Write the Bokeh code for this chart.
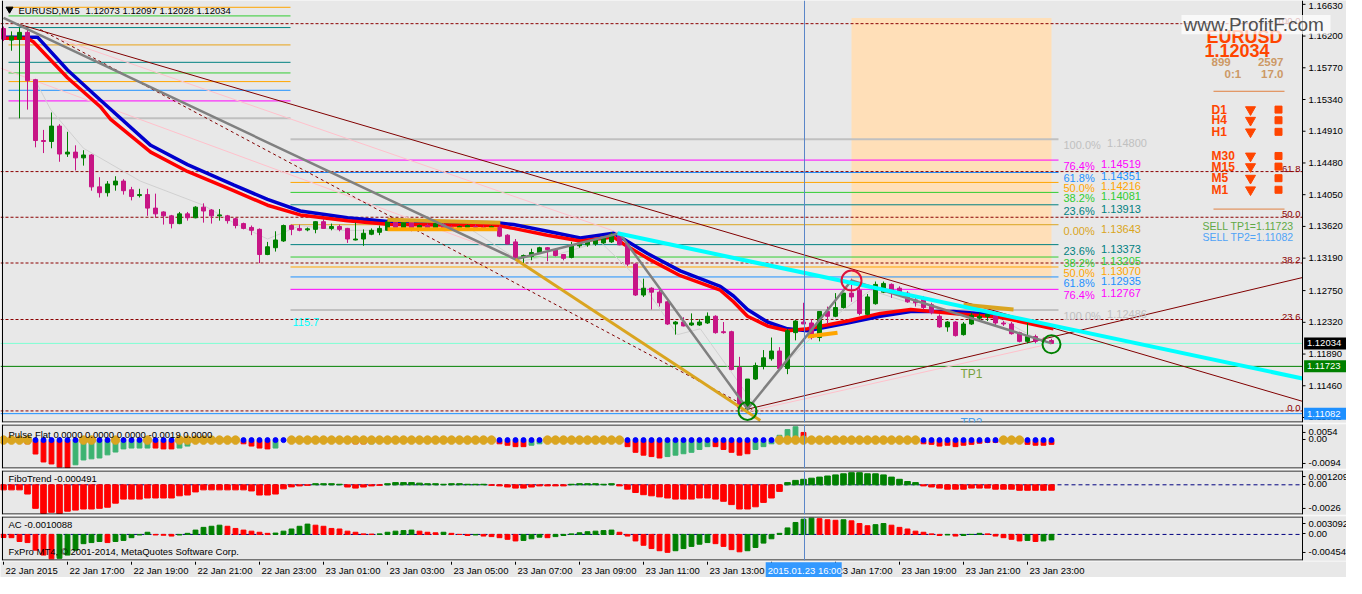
from bokeh.plotting import figure
from bokeh.layouts import column
from bokeh.models import ColumnDataSource, Range1d, Span, BoxAnnotation
from bokeh.core.properties import value
from bokeh.embed import file_html
from bokeh.resources import INLINE

# ---------------------------------------------------------------- data
open_ = [1.16302,1.16145,1.16158,1.16250,1.15609,1.14784,1.14771,1.14980,1.14601,1.14627,
 1.14549,1.14588,1.14156,1.14077,1.14182,1.14234,1.14117,1.14038,1.14051,1.13868,
 1.13816,1.13763,1.13658,1.13790,1.13737,1.13881,1.13842,1.13763,1.13763,1.13724,
 1.13658,1.13606,1.13580,1.13239,1.13331,1.13423,1.13632,1.13593,1.13573,1.13580,
 1.13684,1.13593,1.13619,1.13593,1.13436,1.13449,1.13514,1.13540,1.13567,1.13684,
 1.13593,1.13684,1.13580,1.13632,1.13593,1.13645,1.13606,1.13593,1.13606,1.13619,
 1.13606,1.13606,1.13606,1.13501,1.13410,1.13213,1.13213,1.13266,1.13331,1.13305,
 1.13239,1.13200,1.13357,1.13370,1.13383,1.13396,1.13410,1.13514,1.13383,1.13109,
 1.12690,1.12782,1.12729,1.12598,1.12297,1.12324,1.12284,1.12284,1.12311,1.12402,
 1.12193,1.12193,1.11708,1.11145,1.11551,1.11721,1.11826,1.11931,1.11695,1.12180,
 1.12324,1.12311,1.12114,1.12467,1.12402,1.12520,1.12716,1.12755,1.12428,1.12572,
 1.12729,1.12834,1.12782,1.12716,1.12624,1.12651,1.12559,1.12402,1.12258,1.12324,
 1.12153,1.12297,1.12376,1.12402,1.12454,1.12311,1.12297,1.12180,1.12062,1.12127,
 1.12088,1.12073]
high = [1.16329,1.16263,1.16315,1.16289,1.15620,1.14928,1.15164,1.15006,1.14902,1.14719,
 1.14653,1.14600,1.14287,1.14234,1.14300,1.14260,1.14156,1.14130,1.14130,1.14064,
 1.13825,1.13776,1.13816,1.13816,1.13894,1.13933,1.13855,1.13855,1.13776,1.13737,
 1.13671,1.13632,1.13593,1.13410,1.13554,1.13645,1.13645,1.13645,1.13606,1.13690,
 1.13724,1.13658,1.13645,1.13600,1.13671,1.13580,1.13593,1.13632,1.13711,1.13711,
 1.13711,1.13711,1.13645,1.13658,1.13684,1.13671,1.13632,1.13632,1.13645,1.13645,
 1.13632,1.13632,1.13632,1.13514,1.13449,1.13239,1.13318,1.13344,1.13340,1.13318,
 1.13245,1.13410,1.13410,1.13423,1.13462,1.13475,1.13540,1.13540,1.13396,1.13122,
 1.12912,1.12795,1.12755,1.12611,1.12337,1.12389,1.12441,1.12363,1.12454,1.12415,
 1.12324,1.12206,1.11852,1.11551,1.11774,1.11944,1.12114,1.11983,1.12232,1.12350,
 1.12585,1.12363,1.12467,1.12533,1.12716,1.12716,1.12912,1.12795,1.12703,1.12873,
 1.12873,1.12847,1.12808,1.12742,1.12651,1.12677,1.12585,1.12428,1.12337,1.12337,
 1.12324,1.12454,1.12454,1.12454,1.12467,1.12337,1.12324,1.12193,1.12311,1.12153,
 1.12114,1.12097]
low = [1.16132,1.16001,1.15085,1.15203,1.14692,1.14614,1.14679,1.14496,1.14562,1.14378,
 1.14444,1.14104,1.14012,1.14025,1.14104,1.14051,1.13973,1.14012,1.13763,1.13737,
 1.13645,1.13593,1.13650,1.13698,1.13730,1.13671,1.13658,1.13698,1.13658,1.13593,
 1.13580,1.13501,1.13122,1.13230,1.13279,1.13410,1.13501,1.13554,1.13554,1.13527,
 1.13590,1.13567,1.13554,1.13396,1.13430,1.13357,1.13501,1.13501,1.13560,1.13580,
 1.13567,1.13554,1.13575,1.13567,1.13580,1.13580,1.13567,1.13580,1.13593,1.13593,
 1.13580,1.13580,1.13475,1.13370,1.13174,1.13109,1.13161,1.13252,1.13148,1.13213,
 1.13161,1.13187,1.13331,1.13344,1.13357,1.13383,1.13396,1.13365,1.13082,1.12677,
 1.12664,1.12494,1.12533,1.12284,1.12153,1.12265,1.12271,1.12271,1.12297,1.12166,
 1.12166,1.11669,1.11145,1.11119,1.11538,1.11682,1.11800,1.11682,1.11617,1.12075,
 1.12297,1.12088,1.12062,1.12297,1.12389,1.12507,1.12598,1.12415,1.12415,1.12559,
 1.12716,1.12651,1.12690,1.12585,1.12533,1.12494,1.12428,1.12245,1.12193,1.12127,
 1.12140,1.12284,1.12337,1.12337,1.12271,1.12271,1.12153,1.12048,1.12035,1.12035,
 1.12048,1.12028]
close = [1.16158,1.16198,1.16250,1.15596,1.14784,1.14771,1.14980,1.14601,1.14627,1.14549,
 1.14588,1.14156,1.14077,1.14195,1.14234,1.14104,1.14025,1.14051,1.13868,1.13790,
 1.13763,1.13658,1.13790,1.13737,1.13881,1.13829,1.13763,1.13776,1.13698,1.13632,
 1.13593,1.13567,1.13239,1.13344,1.13436,1.13632,1.13580,1.13567,1.13587,1.13684,
 1.13593,1.13619,1.13580,1.13449,1.13449,1.13527,1.13567,1.13593,1.13684,1.13606,
 1.13684,1.13580,1.13632,1.13593,1.13658,1.13593,1.13580,1.13619,1.13632,1.13606,
 1.13593,1.13619,1.13488,1.13383,1.13187,1.13226,1.13266,1.13331,1.13305,1.13226,
 1.13187,1.13357,1.13396,1.13410,1.13436,1.13462,1.13514,1.13370,1.13109,1.12690,
 1.12782,1.12729,1.12585,1.12297,1.12324,1.12271,1.12311,1.12324,1.12402,1.12180,
 1.12180,1.11682,1.11158,1.11551,1.11734,1.11839,1.11931,1.11695,1.12206,1.12337,
 1.12297,1.12114,1.12467,1.12402,1.12520,1.12716,1.12664,1.12441,1.12664,1.12834,
 1.12847,1.12755,1.12703,1.12598,1.12585,1.12520,1.12454,1.12258,1.12324,1.12140,
 1.12297,1.12415,1.12402,1.12428,1.12311,1.12297,1.12166,1.12062,1.12127,1.12062,
 1.12062,1.12034]

# moving averages (bar index, price)
ma_red_idx = [0,3,3.75,8,12.1,13.4,18.4,23,28.75,33,37.1,43,48.4,61.75,63.75,68,72.1,76.25,77.5,
              80.5,84.6,89.6,91.25,93,95.5,98,100.5,105.5,109.6,113.4,118.75,124.6,131.25]
ma_red_val = [1.16172,1.16172,1.16119,1.15635,1.15242,1.15072,1.14627,1.14365,1.14104,1.13907,
              1.13776,1.13698,1.13645,1.13632,1.13593,1.13501,1.13423,1.13475,1.13383,1.13187,
              1.12952,1.12755,1.12598,1.12402,1.12271,1.12206,1.12232,1.12337,1.12441,1.12494,
              1.12441,1.12389,1.12232]
ma_blue_idx = [0,3,4.25,8,12.1,18.4,23,28.75,33,37.1,43,48.4,61.75,63.75,68,72.1,76.25,77.5,80.5,
               84.6,89.6,91.25,93,95.5,98,100.5,105.5,109.6,113.4,118.75,124.6,131.25]
ma_blue_val = [1.16185,1.16185,1.16185,1.15740,1.15334,1.14719,1.14457,1.14182,1.13986,1.13829,
               1.13737,1.13684,1.13671,1.13645,1.13554,1.13462,1.13527,1.13449,1.13252,1.13017,
               1.12808,1.12677,1.12494,1.12324,1.12232,1.12206,1.12311,1.12402,1.12467,1.12467,
               1.12415,1.12258]
thin_ma_idx = [4.25,5.9,10,17.1,25,28.75,33,37.1,42.1,49.6,58.4,64.6,69.6,74.6,79.6,84.25,87.1,
               93.75,98.4,103.4,108.4,112.1,118.4,124.6,129.6]
thin_ma_val = [1.15543,1.15203,1.14679,1.14234,1.13907,1.13671,1.13449,1.13632,1.13567,1.13567,
               1.13580,1.13148,1.13252,1.13410,1.12886,1.12153,1.12232,1.11224,1.11839,1.12363,
               1.12755,1.12624,1.12428,1.12363,1.12075]

# price axis
price_ticks = [1.11030,1.11460,1.11890,1.12320,1.12750,1.13190,1.13620,1.14050,1.14480,
               1.14910,1.15340,1.15770,1.16200,1.16630]

# Fibonacci sets
fib_left_levels = [1.16590,1.16473,1.16315,1.16080,1.15844,1.15700,1.15583,1.15465,1.15321,1.15085]
fib_left_colors = ["#FFA500","#32CD32","#008080","#E8A317","#008080","#32CD32","#FFA500",
                   "#1E90FF","#FF00FF","#C0C0C0"]
fib_right_pct = ["100.0%","76.4%","61.8%","50.0%","38.2%","23.6%","0.00%",
                 "23.6%","38.2%","50.0%","61.8%","76.4%","100.0%"]
fib_right_levels = [1.14800,1.14519,1.14351,1.14216,1.14081,1.13913,1.13643,
                    1.13373,1.13205,1.13070,1.12935,1.12767,1.12486]
fib_right_colors = ["#C0C0C0","#FF00FF","#1E90FF","#FFA500","#32CD32","#008080","#DAA520",
                    "#008080","#32CD32","#FFA500","#1E90FF","#FF00FF","#C0C0C0"]
lvl_names = ["100.0","61.8","50.0","38.2","23.6","0.0"]
lvl_prices = [1.16368,1.14363,1.13744,1.13124,1.12358,1.11119]

last_price = 1.12034
tp1 = 1.11723
tp2 = 1.11082

# trend objects (bar index, price); right ends sit on the price scale
zigzag_idx = [0,64,77,93,106,131]
zigzag_val = [1.16446,1.13174,1.13527,1.11145,1.12886,1.12035]
maroon_desc = ([2.1,162.375],[1.16355,1.11249])
maroon_asc = ([93.1,162.375],[1.11145,1.12927])
maroon_dash = ([4.6,94.6],[1.16289,1.11080])
cyan_line = ([76.75,162.375],[1.13527,1.11558])
gold_line = ([64.0,94.6],[1.13174,1.10988])
pink_lines = [([-0.375,64.6],[1.15766,1.13174]),([7.1,76.75],[1.16158,1.13541]),
              ([93.4,130.0],[1.11119,1.12009])]
gold_segs = [([48.0,62.1],[1.13711,1.13671]),([120.0,126.25],[1.12559,1.12494])]
orange_segs = [([48.0,61.75],[1.13580,1.13580]),([100.5,104.25],[1.12127,1.12180])]
swing_high = (106,1.12886)
swing_lows = ([93,131],[1.11119,1.12022])
zone = dict(start=106, end=131, low=1.12899, high=1.16446)
crosshair_bar = 100.125

# sub windows
pulse_flat = [0,0,0,-0.0010,-0.0046,-0.0074,-0.0081,-0.0092,-0.0094,-0.0084,
 -0.0067,-0.0063,-0.0060,-0.0049,-0.0039,-0.0028,-0.0025,-0.0025,-0.0025,-0.0025,
 -0.0028,-0.0028,-0.0025,-0.0018,0,0,0,0,0,0,
 -0.0010,-0.0018,-0.0025,-0.0028,-0.0025,0,0,0,0,0.0005,
 0,0,0,0,-0.0010,-0.0010,-0.0010,0,0,0,
 0,0,0,0,0,0,0,0,0,0,
 0,0,-0.0010,-0.0015,-0.0020,-0.0020,-0.0015,-0.0010,0,0,
 0,0,0,0,0,0,0,0,-0.0020,-0.0040,
 -0.0050,-0.0055,-0.0060,-0.0055,-0.0050,-0.0045,-0.0040,-0.0030,-0.0020,-0.0020,
 -0.0030,-0.0040,-0.0050,-0.0045,-0.0030,-0.0020,-0.0010,0.0020,0.0040,0.0050,
 0.0030,0,0,0,0,0,0,0,0,0,
 0,0,0,0,0,-0.0010,-0.0012,-0.0018,-0.0015,-0.0020,
 -0.0015,-0.0012,-0.0008,-0.0005,-0.0005,0,0,0,-0.0012,-0.0015,
 -0.0015,-0.0012]
pulse_color = list("---rrrrrrg" "gggggggggr" "rrgg------" "rrrrg----g" "----rrg---"
                   "----------" "--rrrrgg--" "--------rr" "rrrggggggr" "rrrrgggggg"
                   "r---------" "-----rrrrr" "rrrrr---rr" "rr")
pulse_dot = list("yyyybbbbbb" "yybbybbbyb" "bbyyyyyyyy" "bbbbbbyyyy" "yyyyyyyyyy"
                 "yyyyyyyyyy" "yybbbbbbyy" "yyyyyyyybb" "bbbbbbbbbb" "bbbbbbbyyy"
                 "yyyyyyyyyy" "yyyyybbbbb" "bbbbbyyybb" "bb")
fibo_trend = [-0.00046,-0.00046,-0.00046,-0.00084,-0.00214,-0.0026,-0.0025,-0.0026,-0.0024,-0.0023,
 -0.0022,-0.0022,-0.00214,-0.00204,-0.00167,-0.0013,-0.0013,-0.0013,-0.0012,-0.0012,
 -0.0012,-0.0012,-0.0010,-0.00093,-0.00065,-0.00046,-0.00046,-0.00046,-0.00046,-0.00046,
 -0.00046,-0.00056,-0.00093,-0.00093,-0.00084,-0.00037,-0.00019,-0.0001,-0.00005,0.0001,
 0.0001,0.0001,0.00005,-0.0002,-0.0003,-0.0002,-0.0001,-0.00005,0.0001,0.0002,
 0.0002,0.0002,0.00015,0.0001,0.0001,0.00005,0.0001,0.0001,0.00005,0.00005,
 0.00005,-0.00005,-0.0001,-0.0002,-0.0003,-0.0003,-0.0002,-0.0001,-0.0001,-0.0001,
 -0.0001,0.00005,0.0001,0.0001,0.0001,0.00005,0.0001,-0.0001,-0.0004,-0.0007,
 -0.0009,-0.0010,-0.0011,-0.0012,-0.0013,-0.0013,-0.0013,-0.0012,-0.0012,-0.0013,
 -0.0015,-0.0018,-0.0022,-0.0022,-0.0020,-0.0016,-0.0012,-0.0006,0.0002,0.0004,
 0.0005,0.0006,0.0007,0.0008,0.0009,0.0010,0.0011,0.0011,0.0010,0.0010,
 0.0009,0.0007,0.0005,0.0003,0.0002,-0.0001,-0.0002,-0.0003,-0.0004,-0.0004,
 -0.0004,-0.0003,-0.0003,-0.0003,-0.0004,-0.0004,-0.0004,-0.0005,-0.0005,-0.0005,
 -0.0005,-0.000491]
ac_vals = [-0.00057,-0.0006,-0.0013,-0.0015,-0.0029,-0.0038,-0.0045,-0.0044,-0.0038,-0.0029,
 -0.0017,-0.0015,-0.0013,-0.0015,-0.0013,-0.0011,-0.0006,-0.0001,0.0004,-0.0001,
 -0.00015,-0.0003,-0.0001,0.0002,0.0008,0.0013,0.0015,0.0017,0.0015,0.0011,
 0.0008,0.0006,0.0004,0.0002,0.00025,0.0006,0.0010,0.0015,0.0019,0.0017,
 0.0015,0.0011,0.0010,0.0006,0.0004,0.0001,0.00005,0.0001,0.0004,0.0006,
 0.0007,0.0008,0.0006,0.0004,0.0003,0.0004,0.0002,0.0000,-0.0002,-0.0001,
 -0.0003,-0.0004,-0.0006,-0.0009,-0.0012,-0.0011,-0.0008,-0.0005,-0.0006,-0.0004,
 -0.0002,0.0001,0.0003,0.0005,0.0006,0.0007,0.0008,0.0004,-0.0003,-0.0012,
 -0.0020,-0.0026,-0.0030,-0.0033,-0.0030,-0.0026,-0.0022,-0.0018,-0.0015,-0.0017,
 -0.0022,-0.0028,-0.0032,-0.0030,-0.0024,-0.0016,-0.0008,0.0002,0.0012,0.0022,
 0.0028,0.0030,0.0029,0.0027,0.0026,0.0027,0.0025,0.0020,0.0016,0.0018,
 0.0020,0.0017,0.0013,0.0010,0.0006,0.0004,0.0001,-0.0002,-0.0001,-0.0003,
 -0.0002,0.0000,0.0002,0.0001,-0.0003,-0.0006,-0.0009,-0.0012,-0.0011,-0.0013,
 -0.0012,-0.0010088]

time_ticks = list(range(0, 132, 8))
time_labels = ["22 Jan 2015","22 Jan 17:00","22 Jan 19:00","22 Jan 21:00","22 Jan 23:00",
               "23 Jan 01:00","23 Jan 03:00","23 Jan 05:00","23 Jan 07:00","23 Jan 09:00",
               "23 Jan 11:00","23 Jan 13:00","23 Jan 15:00","23 Jan 17:00","23 Jan 19:00",
               "23 Jan 21:00","23 Jan 23:00"]
crosshair_label = "2015.01.23 16:00"

# ---------------------------------------------------------------- layout helpers
BG = "#e8e8e8"
FONT = "Liberation Sans"
F = value(FONT)
W = 1346
xr = Range1d(-0.375, -0.375 + W / 8.0)
AXI = 162.375          # bar-index position of the price scale line
XS = xr.start


def X(px):             # layout pixel column -> bar index (annotation placement)
    return (px - 3) / 8.0


def Y(py):             # reference pixel row -> price (annotation placement)
    return 1.16682 - py / 7640.0


def make_fig(h, yr, top=1, bottom=1):
    p = figure(width=W, height=h, x_range=xr, y_range=yr, x_axis_location=None,
               y_axis_location=None, toolbar_location=None, output_backend="svg",
               min_border_left=0, min_border_right=0, min_border_top=top,
               min_border_bottom=bottom, background_fill_color=BG, border_fill_color=BG,
               outline_line_color=None)
    p.grid.visible = False
    return p


def frame(p, ylo, yhi, unit, top=True):
    half = 0.5 * unit
    p.line([X(2), X(2)], [ylo, yhi], line_color="black", line_width=1)
    p.line([AXI, AXI], [ylo, yhi], line_color="black", line_width=1)
    p.line([X(2), AXI], [ylo + half, ylo + half], line_color="black", line_width=1)
    if top:
        p.line([X(2), AXI], [yhi - half, yhi - half], line_color="black", line_width=1)


def scale_labels(p, vals, texts, unit, label_vals=None):
    p.segment(x0=[AXI] * len(vals), y0=vals, x1=[AXI + 0.375] * len(vals), y1=vals,
              line_color="black", line_width=1)
    p.text([AXI + 0.75] * len(vals), label_vals or vals, text=texts, text_font=F,
           text_font_size="9.5px", text_color="black", text_baseline="middle")


# ---------------------------------------------------------------- main window
MY0, MY1 = Y(437), Y(0)
MU = (MY1 - MY0) / 422.0
pm = make_fig(423, Range1d(MY0, MY1), top=0, bottom=1)

pm.add_layout(BoxAnnotation(left=zone["start"], right=zone["end"], bottom=zone["low"],
                            top=zone["high"], fill_color="#FFDFB8", fill_alpha=1.0,
                            line_color=None, level="underlay"))

for lv, c in zip(fib_left_levels, fib_left_colors):
    pm.line([X(8), X(290)], [lv, lv], line_color=c, line_width=2 if c == "#C0C0C0" else 1)
for lv, c in zip(fib_right_levels, fib_right_colors):
    pm.line([X(290), X(1058)], [lv, lv], line_color=c, line_width=2 if c == "#C0C0C0" else 1)

for lv in lvl_prices:
    pm.line([XS, AXI], [lv, lv], line_color="#8B0000", line_dash="3 2", line_width=1)
pm.line([XS, AXI], [last_price, last_price], line_color="#7FFFD4", line_width=1)
pm.line([XS, AXI], [tp1, tp1], line_color="#008000", line_width=1)
pm.line([XS, AXI], [tp2, tp2], line_color="#1E90FF", line_width=1)
pm.add_layout(Span(location=crosshair_bar, dimension="height", line_color="#5A86C8", line_width=1))

for xs, ys in pink_lines:
    pm.line(xs, ys, line_color="#FFC0CB", line_width=1)
pm.line(thin_ma_idx, thin_ma_val, line_color="#D0D0D0", line_width=1)
pm.line(*maroon_desc, line_color="#800000", line_width=1)
pm.line(*maroon_asc, line_color="#800000", line_width=1)
pm.line(*maroon_dash, line_color="#800000", line_width=1, line_dash="3 3")

pm.line(ma_blue_idx, ma_blue_val, line_color="#0000CD", line_width=3.5)
pm.line(ma_red_idx, ma_red_val, line_color="#FF0000", line_width=3.5)

idx = list(range(len(close)))
ccol = ["#008000" if c > o else "#C71585" for o, c in zip(open_, close)]
csrc = ColumnDataSource(dict(x=idx, o=open_, h=high, l=low, c=close,
                             top=[max(o, c) for o, c in zip(open_, close)],
                             bot=[min(o, c) for o, c in zip(open_, close)], col=ccol))
pm.segment(x0="x", y0="l", x1="x", y1="h", color="col", line_width=1, source=csrc)
pm.vbar(x="x", width=0.5, top="top", bottom="bot", fill_color="col", line_color="col",
        line_width=1, source=csrc)

for xs, ys in gold_segs:
    pm.line(xs, ys, line_color="#DAA520", line_width=4)
for xs, ys in orange_segs:
    pm.line(xs, ys, line_color="#FFA500", line_width=4)
pm.line(zigzag_idx, zigzag_val, line_color="#808080", line_width=2.5)
pm.line(*gold_line, line_color="#DAA520", line_width=3)
pm.line(*cyan_line, line_color="#00FFFF", line_width=4)

pm.scatter([swing_high[0]], [swing_high[1]], marker="circle", size=20, fill_color=None,
           line_color="#DC143C", line_width=2)
pm.scatter(swing_lows[0], swing_lows[1], marker="circle", size=18, fill_color=None,
           line_color="#008000", line_width=2)

frame(pm, MY0, MY1, MU, top=False)

# header
pm.scatter([X(9)], [Y(9)], marker="inverted_triangle", size=7, color="black")
pm.text([X(18)], [Y(10)], text=["EURUSD,M15"], text_font=F, text_font_size="9.5px",
        text_color="black", text_baseline="middle")
pm.text([X(85)], [Y(10)], text=["1.12073 1.12097 1.12028 1.12034"], text_font=F,
        text_font_size="9.5px", text_color="black", text_baseline="middle")

# fib labels
pm.text([X(1063)] * len(fib_right_pct), fib_right_levels, text=fib_right_pct, text_font=F,
        text_font_size="11px", text_color=fib_right_colors, text_baseline="top")
val_x = [X(1063) + (5.45 if p.startswith("100") else 4.7) for p in fib_right_pct]
pm.text(val_x, fib_right_levels, text=["%.5f" % v for v in fib_right_levels], text_font=F,
        text_font_size="11px", text_color=fib_right_colors, text_baseline="top")

# level labels next to the scale
pm.text([X(1300)] * len(lvl_names), lvl_prices, text=lvl_names, text_font=F,
        text_font_size="9.5px", text_color="#8B0000", text_align="right",
        text_baseline="bottom")

pm.text([X(292)], [Y(333)], text=["115.7"], text_font=F, text_font_size="11px",
        text_color="#00FFFF", text_baseline="middle")
pm.text([X(960)], [Y(387)], text=["TP1"], text_font=F, text_font_size="12px",
        text_color="#77A03A", text_baseline="middle")
pm.text([X(960)], [Y(437)], text=["TP2"], text_font=F, text_font_size="12px",
        text_color="#4A9EE8", text_baseline="middle")

# info block
OR = "#FF4500"
TAN = "#CC9966"
pm.text([X(1206)], [Y(38)], text=["EURUSD"], text_font=F, text_font_size="18px",
        text_font_style="bold", text_color=OR, text_baseline="middle")
pm.text([X(1204)], [Y(52)], text=["1.12034"], text_font=F, text_font_size="18px",
        text_font_style="bold", text_color=OR, text_baseline="middle")
pm.text([X(1211), X(1224)], [Y(64), Y(76)], text=["899", "0:1"], text_font=F,
        text_font_size="11.5px", text_font_style="bold", text_color=TAN, text_baseline="middle")
pm.text([X(1283), X(1283)], [Y(64), Y(76)], text=["2597", "17.0"], text_font=F,
        text_font_size="11.5px", text_font_style="bold", text_color=TAN,
        text_align="right", text_baseline="middle")
pm.line([X(1213), X(1284)], [Y(94), Y(94)], line_color="#E08040", line_width=1)
pm.line([X(1213), X(1284)], [Y(216), Y(216)], line_color="#E08040", line_width=1)
tf_names = ["D1", "H4", "H1", "M30", "M15", "M5", "M1"]
tf_y = [Y(v) for v in (113, 124, 136, 161, 172, 184, 196)]
pm.text([X(1211)] * 7, tf_y, text=tf_names, text_font=F, text_font_size="12px",
        text_font_style="bold", text_color=OR, text_baseline="middle")
pm.scatter([X(1250)] * 7, tf_y, marker="inverted_triangle", size=10, color=OR)
pm.scatter([X(1278)] * 7, tf_y, marker="square", size=7, color=OR)
pm.text([X(1202)], [Y(233)], text=["SELL TP1=1.11723"], text_font=F, text_font_size="10.5px",
        text_color="#5FA845", text_baseline="middle")
pm.text([X(1202)], [Y(245)], text=["SELL TP2=1.11082"], text_font=F, text_font_size="10.5px",
        text_color="#4FA3F7", text_baseline="middle")

# price scale (top label nudged inside the window like the terminal does)
lab_y = list(price_ticks)
lab_y[-1] = min(lab_y[-1], MY1 - 5.5 * MU)
scale_labels(pm, price_ticks, ["%.5f" % v for v in price_ticks], MU, label_vals=lab_y)

# watermark
pm.quad(left=X(1181), right=X(1330), bottom=Y(35), top=Y(15), fill_color="white",
        fill_alpha=0.75, line_color=None)
pm.text([X(1183)], [Y(25)], text=["www.ProfitF.com"], text_font=F, text_font_size="19px",
        text_color="#505050", text_baseline="middle")

# price tags on the scale
for val, bg in ((last_price, "black"), (tp1, "#008000"), (tp2, "#1E90FF")):
    pm.quad(left=AXI + 0.2, right=xr.end, bottom=val - 6 * MU, top=val + 6 * MU,
            fill_color=bg, line_color=None)
    pm.text([AXI + 0.55], [val], text=["%.5f" % val], text_font=F, text_font_size="9.5px",
            text_color="white", text_baseline="middle")

# ---------------------------------------------------------------- Pulse Flat
P1 = (-0.0097, 0.0058)
p1 = make_fig(46, Range1d(*P1))
u1 = (P1[1] - P1[0]) / 44.0
pc = {"r": "#FF0000", "g": "#3CB371"}
bx = [i for i in idx if pulse_color[i] != "-"]
p1.vbar(x=bx, width=0.6, top=0, bottom=[pulse_flat[i] for i in bx],
        color=[pc[pulse_color[i]] for i in bx])
gy = [i for i in idx if pulse_dot[i] == "y"]
bl = [i for i in idx if pulse_dot[i] == "b"]
p1.scatter(gy, [0.0003] * len(gy), size=8.5, color="#DAA520")
p1.scatter(bl, [0.0003] * len(bl), size=5, color="#0000FF")
p1.add_layout(Span(location=crosshair_bar, dimension="height", line_color="#5A86C8", line_width=1))
frame(p1, P1[0], P1[1], u1)
scale_labels(p1, [0.0030, 0.00052, -0.00793], ["0.0054", "0.00", "-0.0094"], u1)
p1.text([X(8)], [0.00439], text=["Pulse Flat 0.0000 0.0000 0.0000 -0.0019 0.0000"], text_font=F,
        text_font_size="9.5px", text_color="black", text_baseline="top")

# ---------------------------------------------------------------- FiboTrend
P2 = (-0.0027, 0.0013)
p2 = make_fig(46, Range1d(*P2))
u2 = (P2[1] - P2[0]) / 44.0
p2.line([XS, AXI], [0, 0], line_color="#000080", line_dash="4 3", line_width=1)
p2.vbar(x=idx, width=0.7, top=0, bottom=fibo_trend,
        color=["#008000" if v > 0 else "#FF0000" for v in fibo_trend])
p2.add_layout(Span(location=crosshair_bar, dimension="height", line_color="#5A86C8", line_width=1))
frame(p2, P2[0], P2[1], u2)
scale_labels(p2, [0.00075, 0.00003, -0.00215], ["0.001209", "0.00", "-0.0026"], u2)
p2.text([X(8)], [0.00103], text=["FiboTrend -0.000491"], text_font=F, text_font_size="9.5px",
        text_color="black", text_baseline="top")

# ---------------------------------------------------------------- AC
P3 = (-0.0048, 0.0033)
p3 = make_fig(46, Range1d(*P3))
u3 = (P3[1] - P3[0]) / 44.0
p3.line([XS, AXI], [0, 0], line_color="#000080", line_dash="4 3", line_width=1)
ac_col = ["#FF0000"] + ["#008000" if ac_vals[i] > ac_vals[i - 1] else "#FF0000"
                        for i in range(1, len(ac_vals))]
p3.vbar(x=idx, width=0.6, top=0, bottom=ac_vals, color=ac_col)
p3.add_layout(Span(location=crosshair_bar, dimension="height", line_color="#5A86C8", line_width=1))
frame(p3, P3[0], P3[1], u3)
scale_labels(p3, [0.00201, 0.00017, -0.00332], ["0.003092", "0.00", "-0.004548"], u3)
p3.text([X(8)], [0.00275], text=["AC -0.0010088"], text_font=F, text_font_size="9.5px",
        text_color="black", text_baseline="top")
p3.text([X(8)], [-0.00314], text=["FxPro MT4, \u00a9 2001-2014, MetaQuotes Software Corp."],
        text_font=F, text_font_size="9.5px", text_color="black", text_baseline="middle")

# ---------------------------------------------------------------- time scale
pt = make_fig(16, Range1d(0, 1), top=0, bottom=0)
pt.segment(x0=time_ticks, y0=[1] * len(time_ticks), x1=time_ticks, y1=[0.8] * len(time_ticks),
           line_color="black", line_width=1)
shown = [(t, l) for t, l in zip(time_ticks, time_labels) if t != 96]
pt.text([t for t, _ in shown], [0.45] * len(shown), text=[l for _, l in shown], text_font=F,
        text_font_size="9.5px", text_color="black", text_baseline="middle", x_offset=2)
pt.quad(left=crosshair_bar - 4.85, right=crosshair_bar + 4.65, bottom=0, top=0.95,
        fill_color="#3399FF", line_color=None)
pt.text([crosshair_bar - 4.6], [0.45], text=[crosshair_label], text_font=F,
        text_font_size="9.5px", text_color="white", text_baseline="middle")

layout = column(pm, p1, p2, p3, pt, spacing=0)
open("out.html", "w").write(file_html(layout, INLINE))
